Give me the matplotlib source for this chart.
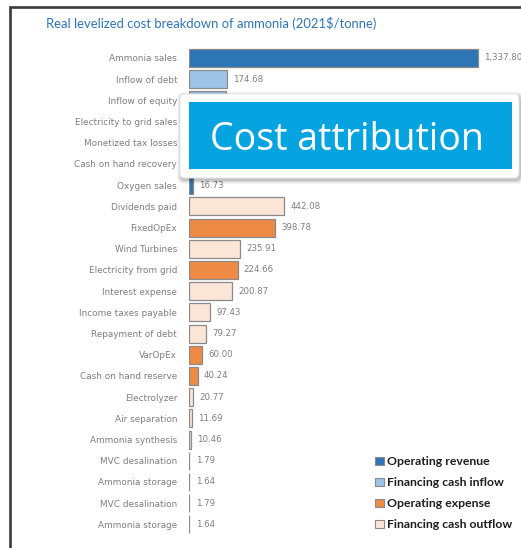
import matplotlib
matplotlib.use("Agg")
import matplotlib.pyplot as plt
from matplotlib.patches import Patch, Rectangle, FancyBboxPatch
from matplotlib.transforms import Affine2D

# Levelized cost components of ammonia (2021$/tonne)
categories = [
    "Ammonia sales", "Inflow of debt", "Inflow of equity", "Electricity to grid sales",
    "Monetized tax losses", "Cash on hand recovery", "Oxygen sales", "Dividends paid",
    "FixedOpEx", "Wind Turbines", "Electricity from grid", "Interest expense",
    "Income taxes payable", "Repayment of debt", "VarOpEx", "Cash on hand reserve",
    "Electrolyzer", "Air separation", "Ammonia synthesis", "MVC desalination",
    "Ammonia storage", "MVC desalination", "Ammonia storage",
]
values = [
    1337.80, 174.68, 170.00, 120.00, 55.00, 40.24, 16.73, 442.08,
    398.78, 235.91, 224.66, 200.87, 97.43, 79.27, 60.00, 40.24,
    20.77, 11.69, 10.46, 1.79, 1.64, 1.79, 1.64,
]
groups = [
    "Operating revenue", "Financing cash inflow", "Financing cash inflow", "Operating revenue",
    "Operating revenue", "Financing cash inflow", "Operating revenue", "Financing cash outflow",
    "Operating expense", "Financing cash outflow", "Operating expense", "Financing cash outflow",
    "Financing cash outflow", "Financing cash outflow", "Operating expense", "Operating expense",
    "Financing cash outflow", "Financing cash outflow", "Financing cash outflow", "Financing cash outflow",
    "Financing cash outflow", "Financing cash outflow", "Financing cash outflow",
]
legend_labels = ["Operating revenue", "Financing cash inflow",
                 "Operating expense", "Financing cash outflow"]
group_colors = {
    "Operating revenue": "#2e75b6",
    "Financing cash inflow": "#9dc3e6",
    "Operating expense": "#ed8b45",
    "Financing cash outflow": "#fbe5d6",
}

W, H, DPI = 521, 548, 100
fig = plt.figure(figsize=(W / DPI, H / DPI), dpi=DPI)
fig.patch.set_facecolor("white")

# pixel coordinates (origin bottom-left)
px = Affine2D().scale(1 / DPI) + fig.dpi_scale_trans


def fy(y):
    """Convert a distance from the top edge into a bottom-up pixel coordinate."""
    return H - y


# callout geometry, in pixels from the top-left corner
CALLOUT = (180, 94, 519, 178)

ax = fig.add_axes([189 / W, 13.1 / H, 324 / W, 487.5 / H])
ypos = list(range(len(categories)))
ax.barh(ypos, values, height=0.85,
        color=[group_colors[g] for g in groups],
        edgecolor="#8a8a8a", linewidth=0.9, zorder=2)
ax.set_xlim(0, 1500)
ax.set_ylim(len(categories) - 0.5, -0.5)
ax.set_yticks(ypos)
ax.set_yticklabels(categories, fontsize=6.4, color="#7f7f7f", family="DejaVu Sans")
ax.tick_params(axis="y", length=0, pad=8.5)
ax.set_xticks([])
for s in ax.spines.values():
    s.set_visible(False)

# value labels; the ones sitting under the callout are not drawn
to_px = ax.transData
for y, v in zip(ypos, values):
    bx, by = to_px.transform((v, y))
    by_top = H - by
    if CALLOUT[1] <= by_top <= CALLOUT[3] and bx + 6 >= CALLOUT[0]:
        continue
    ax.annotate(f"{v:,.2f}", xy=(v, y), xytext=(4.5, 0), textcoords="offset points",
                va="center", ha="left", fontsize=6.2, color="#7f7f7f",
                family="DejaVu Sans", annotation_clip=False)

handles = [Patch(facecolor=group_colors[g], edgecolor="#8a8a8a", linewidth=0.8)
           for g in legend_labels]
ax.legend(handles, legend_labels, loc="upper left",
          bbox_to_anchor=(369 / W, fy(450) / H), bbox_transform=fig.transFigure,
          frameon=False, handlelength=0.7, handleheight=0.7, handletextpad=0.3,
          labelspacing=0.82, borderpad=0,
          prop={"family": "Lato", "weight": "bold", "size": 8.8})
for t in ax.get_legend().get_texts():
    t.set_color("#1e1e1e")

fig.text(46 / W, fy(24) / H, "Real levelized cost breakdown of ammonia (2021$/tonne)",
         ha="left", va="center", fontsize=9.4, color="#2f75b5", family="Lato")

# outer frame
fig.add_artist(Rectangle((10, fy(600)), 600, 593, transform=px, fill=False,
                         edgecolor="#3a3a3a", linewidth=1.9, zorder=5))

# callout box with soft shadow
x0, y0, x1, y1 = CALLOUT
for i, a in enumerate([0.035, 0.05, 0.07, 0.09]):
    grow = 4 - i
    fig.add_artist(FancyBboxPatch((x0 - grow + 1, fy(y1) - grow - 2),
                                  (x1 - x0) + 2 * grow, (y1 - y0) + 2 * grow,
                                  boxstyle="round,pad=0,rounding_size=6", transform=px,
                                  facecolor="black", edgecolor="none", alpha=a, zorder=9))
fig.add_artist(FancyBboxPatch((x0, fy(y1)), x1 - x0, y1 - y0,
                              boxstyle="round,pad=0,rounding_size=5", transform=px,
                              facecolor="white", edgecolor="#e6e6e6", linewidth=0.6, zorder=10))
fig.add_artist(Rectangle((189, fy(169)), 323, 67, transform=px,
                         facecolor="#05a3df", edgecolor="none", zorder=11))
fig.text(346.5 / W, fy(150) / H, "Cost attribution", ha="center", va="baseline",
         fontsize=27, color="white", family="Open Sans", zorder=12)

fig.savefig("out.png", dpi=DPI)
